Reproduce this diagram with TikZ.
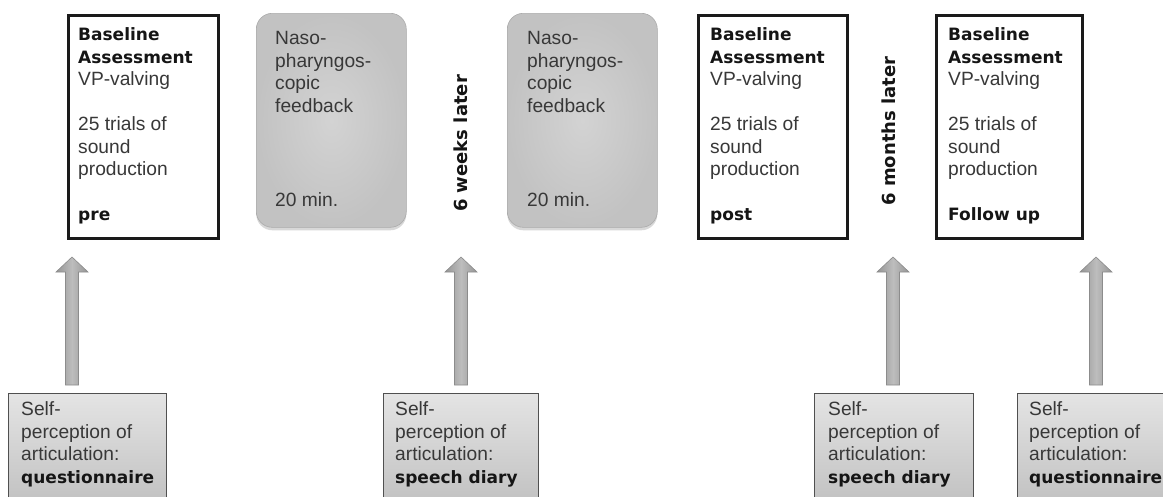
\documentclass[tikz,border=0pt]{standalone}
\usepackage{fontspec}
\setmainfont{Liberation Sans}
\newfontfamily\vbfam{DejaVu Sans}
\usetikzlibrary{calc,shadows}
\definecolor{txt}{HTML}{383838}
\definecolor{bdtxt}{HTML}{151515}
\definecolor{boxline}{HTML}{1A1A1A}
\definecolor{gfillin}{HTML}{D3D3D3}
\definecolor{gfillout}{HTML}{C2C2C2}
\definecolor{gline}{HTML}{ABABAB}
\definecolor{btop}{HTML}{E4E4E4}
\definecolor{bbot}{HTML}{BBBBBB}
\definecolor{bline}{HTML}{505050}
\definecolor{aedge}{HTML}{959595}
\definecolor{amid}{HTML}{BDBDBD}
\definecolor{aline}{HTML}{8C8C8C}
\newcommand{\myrg}{\fontsize{19.2}{22.5}\selectfont}
\newcommand{\mybd}{\vbfam\bfseries\fontsize{17}{22.5}\selectfont\color{bdtxt}}
\newcommand{\myrot}{\vbfam\bfseries\fontsize{18}{22.5}\selectfont}
\tikzset{
  wbox/.style={draw=boxline, line width=3pt, fill=white, anchor=north west, inner sep=0pt},
  gbox/.style={draw=gline, line width=0.6pt, rounded corners=16pt, inner color=gfillin, outer color=gfillout,
    anchor=north west, inner sep=0pt, drop shadow={opacity=0.3, shadow xshift=0pt, shadow yshift=-3pt}},
  bbox/.style={draw=bline, line width=1.1pt, top color=btop, bottom color=bbot, anchor=north west, inner sep=0pt},
  txtnode/.style={anchor=base west, inner sep=0pt, text=txt, font=\myrg},
  rotlabel/.style={rotate=90, inner sep=0pt, text=bdtxt, font=\myrot},
  arrfill/.style={draw=aline, line width=0.6pt, left color=aedge, right color=aedge, middle color=amid}
}
\newcommand{\blk}[1]{\parbox[t]{200pt}{\leavevmode\raggedright #1}}
\begin{document}
\begin{tikzpicture}[x=1pt,y=-1pt]
\path[use as bounding box] (0,0) rectangle (1163,496);
\clip (0,0) rectangle (1163,496);
\fill[white] (0,0) rectangle (1163,496);

% top white boxes
\node[wbox, minimum width=150pt, minimum height=223pt] (pre) at (66.5,13.5) {};
\node[wbox, minimum width=149pt, minimum height=223pt] (post) at (696.5,13.5) {};
\node[wbox, minimum width=146pt, minimum height=223pt] (fup) at (934.5,13.5) {};

% gray rounded boxes
\node[gbox, minimum width=150pt, minimum height=214pt] (fb1) at (256,13) {};
\node[gbox, minimum width=150pt, minimum height=214pt] (fb2) at (507,13) {};

% texts of white boxes
\node[txtnode] (pret) at (78,40.5) {\blk{{\mybd Baseline}\\{\mybd Assessment}\\VP-valving\\[22.5pt]25 trials of\\sound\\production\\[22.5pt]{\mybd pre}}};
\node[txtnode] (postt) at (710,40.5) {\blk{{\mybd Baseline}\\{\mybd Assessment}\\VP-valving\\[22.5pt]25 trials of\\sound\\production\\[22.5pt]{\mybd post}}};
\node[txtnode] (fupt) at (948,40.5) {\blk{{\mybd Baseline}\\{\mybd Assessment}\\VP-valving\\[22.5pt]25 trials of\\sound\\production\\[22.5pt]{\mybd Follow up}}};

% texts of gray boxes
\node[txtnode] (fb1t) at (275,44.5) {\blk{Naso-\\pharyngos-\\copic\\feedback}};
\node[txtnode] (fb1m) at (275,206) {20 min.};
\node[txtnode] (fb2t) at (527,44.5) {\blk{Naso-\\pharyngos-\\copic\\feedback}};
\node[txtnode] (fb2m) at (527,206) {20 min.};

% time labels
\node[rotlabel] (wk) at (461,143.5) {6 weeks later};
\node[rotlabel] (mo) at (889,131) {6 months later};

% bottom boxes
\node[bbox, minimum width=158pt, minimum height=130pt] (q1) at (8,393) {};
\node[bbox, minimum width=155pt, minimum height=130pt] (sd1) at (383,393) {};
\node[bbox, minimum width=159pt, minimum height=130pt] (sd2) at (814,393) {};
\node[bbox, minimum width=158pt, minimum height=130pt] (q2) at (1017,393) {};

\node[txtnode] (q1t) at (21,415.5) {\blk{Self-\\perception of\\articulation:\\{\mybd questionnaire}}};
\node[txtnode] (sd1t) at (395,415.5) {\blk{Self-\\perception of\\articulation:\\{\mybd speech diary}}};
\node[txtnode] (sd2t) at (828,415.5) {\blk{Self-\\perception of\\articulation:\\{\mybd speech diary}}};
\node[txtnode] (q2t) at (1029,415.5) {\blk{Self-\\perception of\\articulation:\\{\mybd questionnaire}}};

% arrows
\coordinate (a1b) at (72,385);   \coordinate (a1t) at (72,257);
\coordinate (a2b) at (461,385);  \coordinate (a2t) at (461,257);
\coordinate (a3b) at (893,385);  \coordinate (a3t) at (893,257);
\coordinate (a4b) at (1096,385); \coordinate (a4t) at (1096,257);
\foreach \b/\t in {a1b/a1t, a2b/a2t, a3b/a3t, a4b/a4t}{
  \path[arrfill] ($(\b)+(-6.5,0)$) -- ($(\t)+(-6.5,15)$) -- ($(\t)+(-16,15)$) -- (\t)
     -- ($(\t)+(16,15)$) -- ($(\t)+(6.5,15)$) -- ($(\b)+(6.5,0)$) -- cycle;
}
\end{tikzpicture}
\end{document}
